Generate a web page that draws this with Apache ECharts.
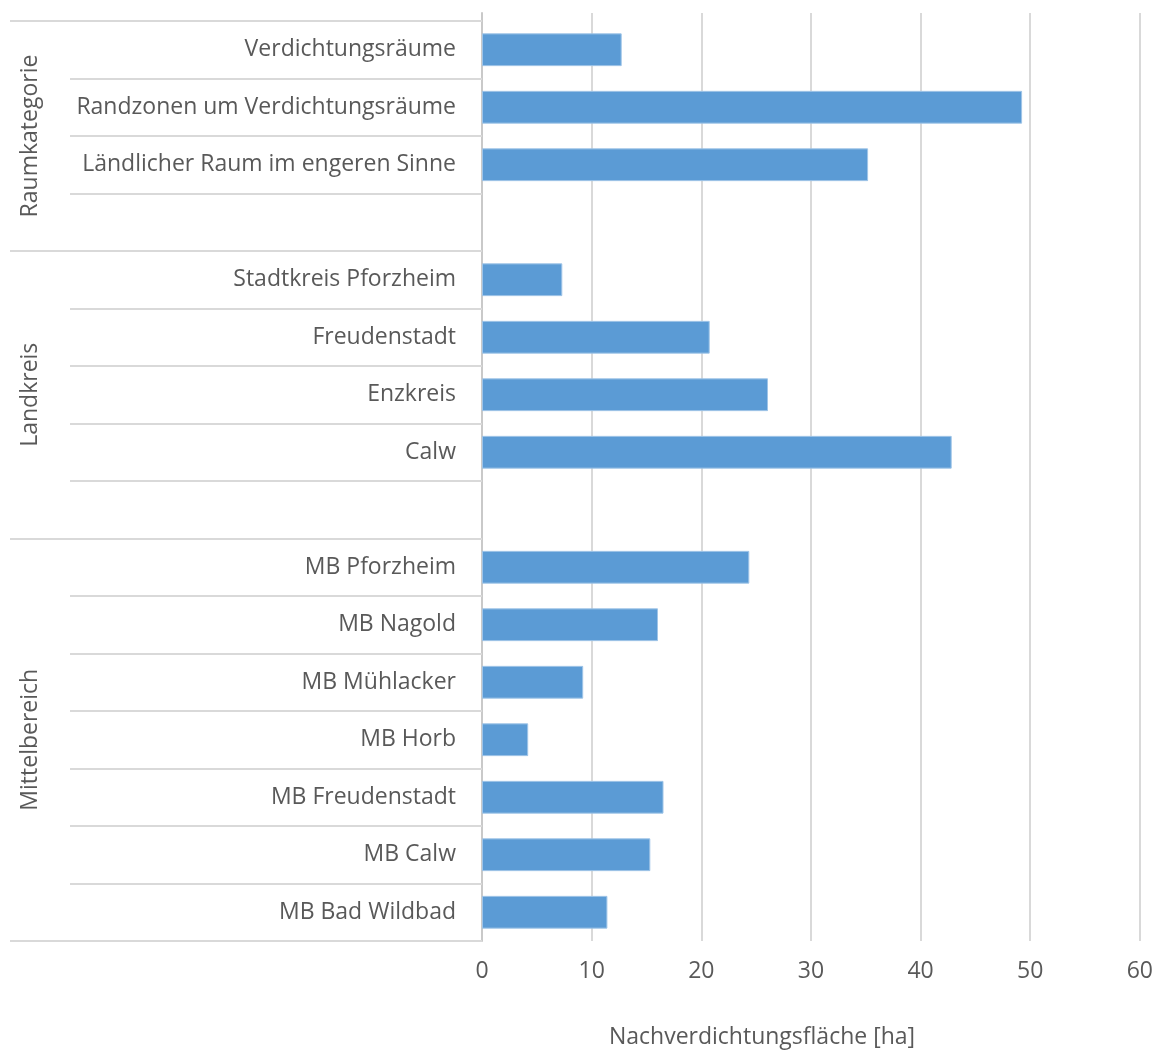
<!DOCTYPE html>
<html>
<head>
<meta charset="utf-8">
<script src="https://cdn.jsdelivr.net/npm/echarts@6/dist/echarts.min.js"></script>
<style>
html,body{margin:0;padding:0;background:#fff;}
#chart{width:1156px;height:1051px;}
</style>
</head>
<body>
<div id="chart"></div>
<script>
// ---- data ----
var groupNames = ['Raumkategorie', 'Landkreis', 'Mittelbereich'];
var raumCats = ['Verdichtungsräume', 'Randzonen um Verdichtungsräume', 'Ländlicher Raum im engeren Sinne'];
var raumVals = [12.7, 49.1, 35.1];
var kreisCats = ['Stadtkreis Pforzheim', 'Freudenstadt', 'Enzkreis', 'Calw'];
var kreisVals = [7.3, 20.7, 26.0, 42.7];
var mbCats = ['MB Pforzheim', 'MB Nagold', 'MB Mühlacker', 'MB Horb', 'MB Freudenstadt', 'MB Calw', 'MB Bad Wildbad'];
var mbVals = [24.3, 16.0, 9.2, 4.2, 16.5, 15.3, 11.4];
var xTicks = [0, 10, 20, 30, 40, 50, 60];
var axisTitle = 'Nachverdichtungsfläche [ha]';

// ---- build ----
var groups = [
  {name: groupNames[0], cats: raumCats, vals: raumVals, blank: true},
  {name: groupNames[1], cats: kreisCats, vals: kreisVals, blank: true},
  {name: groupNames[2], cats: mbCats, vals: mbVals, blank: false}
];
var categories = [], values = [], bounds = [0], groupCenters = [];
groups.forEach(function (g) {
  var start = categories.length;
  g.cats.forEach(function (c, i) { categories.push(c); values.push(g.vals[i]); });
  if (g.blank) { categories.push(' '); values.push('-'); }
  bounds.push(categories.length);
  groupCenters.push((start + categories.length) / 2);
});
var total = categories.length;

var textColor = '#595959';
var lineColor = '#d9d9d9';
var font = 'Open Sans';
var fs = 23;
var xMin = xTicks[0], xMax = xTicks[xTicks.length - 1], xInt = xTicks[1] - xTicks[0];

var chart = echarts.init(document.getElementById('chart'), null, {renderer: 'canvas'});
chart.setOption({
  backgroundColor: '#ffffff',
  animation: false,
  grid: [
    // background grid: vertical gridlines + value axis labels (gridlines reach a bit above the rows)
    {left: 482, right: 14, top: 13, bottom: 110, containLabel: false},
    // plot grid: category rows and bars
    {left: 482, right: 14, top: 21, bottom: 110, containLabel: false}
  ],
  xAxis: [
    {
      type: 'value', gridIndex: 0, min: xMin, max: xMax, interval: xInt,
      axisLine: {show: false}, axisTick: {show: false},
      axisLabel: {color: textColor, fontFamily: font, fontSize: fs, margin: 19},
      splitLine: {show: true, lineStyle: {color: lineColor, width: 2}}
    },
    {
      type: 'value', gridIndex: 1, min: xMin, max: xMax, interval: xInt,
      axisLine: {show: false}, axisTick: {show: false}, axisLabel: {show: false},
      splitLine: {show: false}
    }
  ],
  yAxis: [
    {
      type: 'value', gridIndex: 0, min: 0, max: 1,
      axisLine: {show: true, lineStyle: {color: '#c9c9c9', width: 2}},
      axisTick: {show: false}, axisLabel: {show: false}, splitLine: {show: false}
    },
    {
      type: 'category', gridIndex: 1, data: categories, inverse: true,
      axisLine: {show: false},
      axisTick: {show: true, length: 412, lineStyle: {color: lineColor, width: 2}},
      axisLabel: {color: textColor, fontFamily: font, fontSize: fs, margin: 26, interval: 0},
      splitLine: {show: false}
    },
    {
      type: 'value', gridIndex: 1, min: 0, max: total, inverse: true, position: 'left',
      axisLine: {show: false},
      axisTick: {show: true, length: 472, customValues: bounds, lineStyle: {color: lineColor, width: 2}},
      axisLabel: {
        show: true, customValues: groupCenters, rotate: 90, margin: 440,
        color: textColor, fontFamily: font, fontSize: fs,
        formatter: function (v) {
          var idx = groupCenters.indexOf(v);
          return idx >= 0 ? groupNames[idx] : '';
        }
      },
      splitLine: {show: false}
    }
  ],
  series: [{
    type: 'bar', xAxisIndex: 1, yAxisIndex: 1, data: values,
    barCategoryGap: '43%', z: 5,
    itemStyle: {color: '#5B9BD5', borderColor: '#9fc4e7', borderWidth: 1}
  }],
  graphic: [{
    type: 'text', x: 762, y: 1037,
    style: {text: axisTitle, fill: textColor, font: fs + 'px "' + font + '"', align: 'center', verticalAlign: 'middle'}
  }]
});
</script>
</body>
</html>
